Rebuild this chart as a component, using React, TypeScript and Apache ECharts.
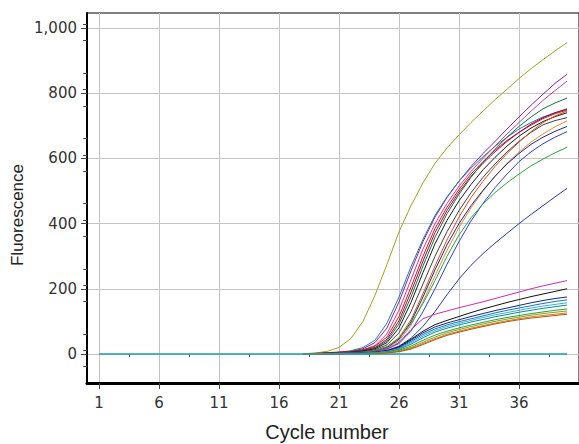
import React, { useEffect, useRef } from "react";
import * as echarts from "echarts";

// Cycle numbers for which the amplification curves are listed (earlier cycles sit on the baseline)
const CYCLES = [18, 19, 20, 21, 22, 23, 24, 25, 26, 27, 28, 29, 30, 31, 32, 33, 34, 35, 36, 37, 38, 39, 40];
const X_TICKS = [1, 6, 11, 16, 21, 26, 31, 36];
const X_MINOR_TICKS = [3.5, 8.5, 13.5, 18.5, 23.5, 28.5, 33.5, 38.5];
const Y_TICKS = [0, 200, 400, 600, 800, 1000];
const BASELINE_CYCLES = [1, 40];
const BASELINE_VALUES = [0, 0];

// High-plateau curves
const olive = [1, 3, 8, 20, 48, 100, 180, 275, 375, 455, 525, 585, 632, 672, 710, 745, 780, 812, 845, 875, 903, 930, 955];
const purple = [0, 1, 2, 4, 8, 16, 35, 80, 160, 255, 345, 420, 480, 530, 575, 615, 652, 690, 727, 763, 797, 830, 858];
const tealBlue = [0, 1, 2, 5, 10, 20, 42, 95, 175, 268, 352, 425, 482, 530, 570, 605, 637, 665, 690, 710, 727, 740, 750];
const magenta = [0, 1, 2, 3, 6, 12, 26, 62, 135, 228, 322, 400, 462, 515, 560, 600, 638, 675, 710, 745, 778, 808, 837];
const red = [0, 2, 4, 6, 8, 13, 24, 52, 115, 205, 300, 385, 450, 505, 552, 590, 625, 655, 680, 702, 722, 737, 748];
const crimson = [0, 1, 3, 5, 7, 11, 20, 45, 102, 190, 285, 372, 440, 497, 545, 585, 620, 652, 680, 705, 725, 740, 752];
const darkGreen = [0, 1, 2, 3, 6, 10, 18, 40, 92, 175, 270, 358, 430, 490, 542, 588, 628, 665, 698, 727, 752, 770, 785];
const black1 = [0, 1, 2, 3, 5, 9, 16, 35, 80, 158, 250, 338, 410, 470, 520, 565, 603, 638, 668, 693, 713, 728, 740];
const black2 = [0, 1, 2, 3, 4, 7, 13, 28, 65, 130, 215, 300, 375, 440, 495, 542, 583, 620, 652, 680, 703, 716, 725];
const redOrange = [0, 1, 2, 3, 4, 6, 11, 22, 50, 105, 185, 270, 350, 420, 480, 530, 575, 615, 650, 682, 710, 730, 745];
const orange = [0, 1, 1, 2, 3, 5, 9, 18, 40, 88, 160, 240, 318, 388, 448, 500, 545, 585, 620, 650, 675, 697, 715];
const navy = [0, 1, 2, 3, 4, 6, 10, 20, 45, 98, 175, 258, 335, 400, 455, 502, 545, 583, 615, 643, 665, 683, 698];
const blue = [0, 1, 1, 2, 3, 5, 8, 15, 32, 70, 130, 200, 275, 345, 408, 462, 510, 552, 590, 620, 645, 665, 682];
const green = [0, 1, 1, 2, 3, 5, 10, 22, 48, 92, 155, 225, 300, 365, 418, 460, 495, 525, 552, 577, 598, 617, 634];
const lateNavy = [0, 0, 1, 2, 3, 4, 6, 11, 24, 48, 85, 130, 182, 230, 272, 308, 340, 370, 400, 428, 455, 482, 508];

// Low-plateau curves
const lowMagenta = [0, 1, 1, 2, 3, 4, 7, 15, 35, 75, 108, 122, 132, 142, 151, 160, 170, 180, 190, 200, 209, 217, 225];
const lowBlack = [0, 0, 1, 1, 2, 3, 5, 10, 22, 45, 70, 90, 103, 115, 127, 138, 148, 158, 167, 176, 184, 192, 200];
const lowNavy = [0, 0, 1, 1, 2, 3, 5, 9, 20, 42, 65, 83, 95, 105, 115, 124, 133, 141, 149, 157, 164, 170, 175];
const lowBlue = [0, 0, 1, 1, 2, 3, 4, 8, 18, 38, 60, 77, 89, 99, 108, 117, 126, 134, 141, 148, 155, 161, 166];
const lowCyan = [0, 0, 1, 1, 2, 2, 4, 7, 16, 34, 55, 72, 84, 94, 103, 112, 120, 127, 134, 141, 147, 152, 157];
const lowTeal = [0, 0, 0, 1, 1, 2, 3, 6, 14, 30, 50, 67, 79, 89, 98, 106, 114, 121, 128, 134, 140, 145, 150];
const lowGreen = [0, 0, 0, 1, 1, 2, 3, 5, 11, 24, 42, 58, 70, 80, 89, 97, 105, 112, 118, 124, 129, 134, 138];
const lowOlive = [0, 0, 0, 1, 1, 1, 2, 4, 9, 20, 36, 52, 65, 75, 84, 92, 100, 107, 113, 119, 124, 128, 132];
const lowOrange = [0, 0, 0, 1, 1, 1, 2, 4, 8, 17, 32, 47, 60, 70, 79, 87, 95, 102, 108, 114, 118, 122, 126];
const lowBrown = [0, 0, 0, 0, 1, 1, 2, 3, 7, 15, 29, 44, 57, 67, 76, 84, 92, 99, 105, 110, 114, 118, 122];

const CURVES: [string, number[]][] = [
  ["Olive", olive],
  ["Purple", purple],
  ["Teal blue", tealBlue],
  ["Magenta", magenta],
  ["Red", red],
  ["Crimson", crimson],
  ["Dark green", darkGreen],
  ["Black 1", black1],
  ["Black 2", black2],
  ["Red orange", redOrange],
  ["Orange", orange],
  ["Navy", navy],
  ["Blue", blue],
  ["Green", green],
  ["Late navy", lateNavy],
  ["Low magenta", lowMagenta],
  ["Low black", lowBlack],
  ["Low navy", lowNavy],
  ["Low blue", lowBlue],
  ["Low cyan", lowCyan],
  ["Low teal", lowTeal],
  ["Low green", lowGreen],
  ["Low olive", lowOlive],
  ["Low orange", lowOrange],
  ["Low brown", lowBrown],
];

const COLORS: Record<string, string> = {
  "Olive": "#a0a028",
  "Purple": "#802890",
  "Teal blue": "#2878a8",
  "Magenta": "#c83c96",
  "Red": "#d01818",
  "Crimson": "#a00848",
  "Dark green": "#107040",
  "Black 1": "#181818",
  "Black 2": "#404040",
  "Red orange": "#d05020",
  "Orange": "#e08838",
  "Navy": "#182878",
  "Blue": "#3040c0",
  "Green": "#30a040",
  "Late navy": "#283898",
  "Low magenta": "#c030b0",
  "Low black": "#101010",
  "Low navy": "#102880",
  "Low blue": "#2070c0",
  "Low cyan": "#30b8d0",
  "Low teal": "#108898",
  "Low green": "#30a030",
  "Low olive": "#88a020",
  "Low orange": "#e07810",
  "Low brown": "#a85818",
};

export default function App() {
  const ref = useRef<HTMLDivElement>(null);

  useEffect(() => {
    if (!ref.current) return;
    const chart = echarts.init(ref.current, null, { renderer: "svg" });

    const series: any[] = CURVES.map(([name, values]) => ({
      name,
      type: "line",
      xAxisIndex: 0,
      yAxisIndex: 0,
      showSymbol: false,
      silent: true,
      lineStyle: { width: 1, color: COLORS[name] },
      itemStyle: { color: COLORS[name] },
      data: CYCLES.map((c, i) => [c, values[i]]),
    }));
    series.push({
      name: "Baseline",
      type: "line",
      xAxisIndex: 0,
      yAxisIndex: 0,
      showSymbol: false,
      silent: true,
      z: 5,
      lineStyle: { width: 1.5, color: "#20a0a8" },
      data: BASELINE_CYCLES.map((c, i) => [c, BASELINE_VALUES[i]]),
    });

    chart.setOption({
      animation: false,
      backgroundColor: "#ffffff",
      grid: {
        left: 87,
        right: 0,
        top: 13,
        bottom: 61,
        show: true,
        borderColor: "#000",
        borderWidth: 1,
        containLabel: false,
        outerBoundsMode: "none",
      },
      xAxis: [
        {
          type: "value",
          min: 0,
          max: 41,
          position: "bottom",
          name: "Cycle number",
          nameLocation: "middle",
          nameGap: 39,
          nameTextStyle: {
            fontFamily: "Liberation Sans",
            fontSize: 20,
            color: "#222",
            padding: [0, 12, 0, 0],
          },
          axisLine: { show: true, onZero: false, lineStyle: { color: "#000", width: 3 } },
          axisTick: { show: true, customValues: X_TICKS, length: 6, lineStyle: { color: "#444" } },
          axisLabel: {
            customValues: X_TICKS,
            margin: 12,
            fontFamily: "DejaVu Sans",
            fontSize: 15,
            color: "#333",
          },
          splitLine: { show: true, lineStyle: { color: "#c4c4c4", width: 1 } },
        },
        {
          type: "value",
          min: 0,
          max: 41,
          position: "bottom",
          axisLine: { show: false },
          axisTick: { show: true, customValues: X_MINOR_TICKS, length: 3, lineStyle: { color: "#444" } },
          axisLabel: { show: false },
          splitLine: { show: false },
        },
      ],
      yAxis: {
        type: "value",
        min: -89,
        max: 1046,
        interval: 200,
        axisLine: { show: true, onZero: false, lineStyle: { color: "#000", width: 2 } },
        axisTick: { show: true, customValues: Y_TICKS, length: 6, lineStyle: { color: "#444" } },
        minorTick: { show: true, splitNumber: 4, length: 4, lineStyle: { color: "#444" } },
        minorSplitLine: { show: false },
        axisLabel: {
          customValues: Y_TICKS,
          margin: 10,
          fontFamily: "DejaVu Sans",
          fontSize: 15,
          color: "#333",
          formatter: (v: number) => v.toLocaleString("en-US"),
        },
        splitLine: { show: true, lineStyle: { color: "#c4c4c4", width: 1 } },
      },
      graphic: [
        {
          type: "text",
          x: 17,
          y: 215,
          rotation: Math.PI / 2,
          style: {
            text: "Fluorescence",
            fontFamily: "Liberation Sans",
            fontSize: 17,
            fill: "#222",
            align: "center",
            verticalAlign: "middle",
          },
        },
      ],
      series,
    });

    return () => chart.dispose();
  }, []);

  return (
    <div
      ref={ref}
      style={{ position: "fixed", left: 0, top: 0, width: 579, height: 444, background: "#fff" }}
    />
  );
}
